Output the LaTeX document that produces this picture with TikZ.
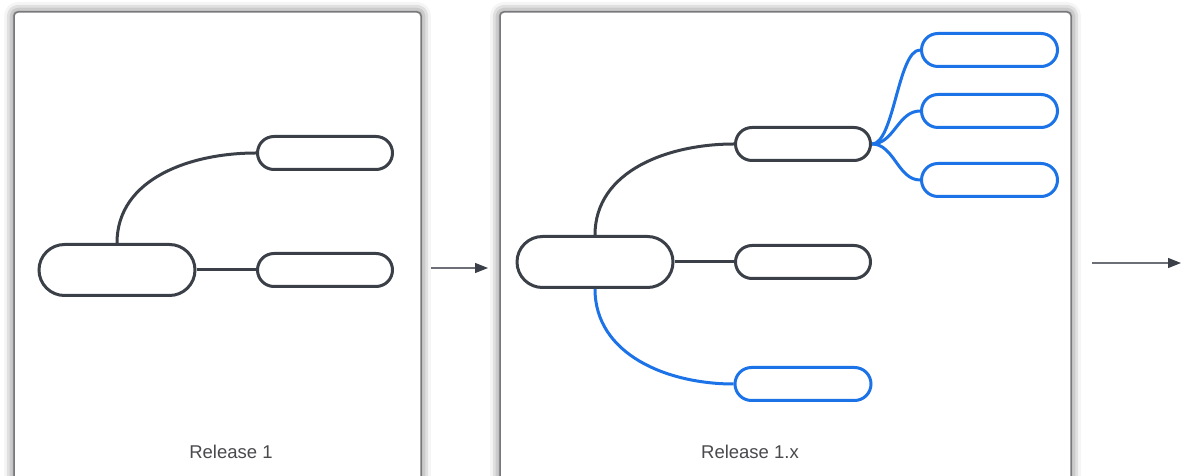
\documentclass[tikz,border=0pt]{standalone}
\usepackage{fontspec}
\setmainfont{Liberation Sans}
\usepackage{tikz}
\usetikzlibrary{arrows.meta, shadows.blur}

\definecolor{ink}{RGB}{59,64,72}
\definecolor{mapblue}{RGB}{28,115,232}
\definecolor{framegray}{RGB}{120,120,124}
\definecolor{textgray}{RGB}{74,74,78}

\begin{document}
\begin{tikzpicture}[x=1pt, y=1pt,
	panel/.style = {draw=framegray, line width=1.5pt, fill=white, rounded corners=4pt,
		blur shadow={shadow xshift=0pt, shadow yshift=0pt, shadow blur radius=10pt, shadow opacity=65}},
	topic/.style = {draw=ink, line width=3pt, rounded corners=16.5pt, minimum width=135pt, minimum height=33pt, inner sep=0pt},
	root/.style = {topic, rounded corners=25.5pt, minimum width=156pt, minimum height=51pt},
	newtopic/.style = {topic, draw=mapblue, minimum width=136pt},
	link/.style = {draw=ink, line width=3pt},
	newlink/.style = {draw=mapblue, line width=3pt},
	step arrow/.style = {draw=ink!75, line width=1.2pt, -{Triangle[length=13pt, width=10pt, color=ink]}},
	caption/.style = {text=textgray, font=\fontsize{18.5}{20}\selectfont}]
\useasboundingbox (0,0) rectangle (1190,476);
\clip (0,0) rectangle (1190,476);

\draw[panel] (14,464) rectangle (421,-30);
\draw[panel] (500,464) rectangle (1071,-30);

% release 1
\node[root] (r1) at (117,206) {};
\node[topic] (a1) at (325,323) {};
\node[topic] (b1) at (325,206) {};
\draw[link] (r1.north) to[out=90, in=180] (a1.west);
\draw[link] (r1.east) -- (b1.west);
\node[caption] (cap1) at (231,24) {Release 1};

% release 1.x
\node[root] (r2) at (595,214) {};
\node[topic] (a2) at (803,332) {};
\node[topic] (b2) at (803,214) {};
\node[newtopic] (c2) at (803,92) {};
\draw[link] (r2.north) to[out=90, in=180] (a2.west);
\draw[link] (r2.east) -- (b2.west);
\draw[newlink] (r2.south) to[out=-90, in=180] (c2.west);
\foreach \n/\y in {g1/426, g2/365, g3/296} {
	\node[newtopic] (\n) at (989.5,\y) {};
	\draw[newlink] (a2.east) .. controls +(22,0) and +(-22,0) .. (\n.west);
}
\node[caption] (cap2) at (750,24) {Release 1.x};

\coordinate (s1) at (431,208);
\coordinate (e1) at (488,208);
\coordinate (s2) at (1092,213);
\coordinate (e2) at (1181,213);
\draw[step arrow] (s1) -- (e1);
\draw[step arrow] (s2) -- (e2);
\end{tikzpicture}
\end{document}
